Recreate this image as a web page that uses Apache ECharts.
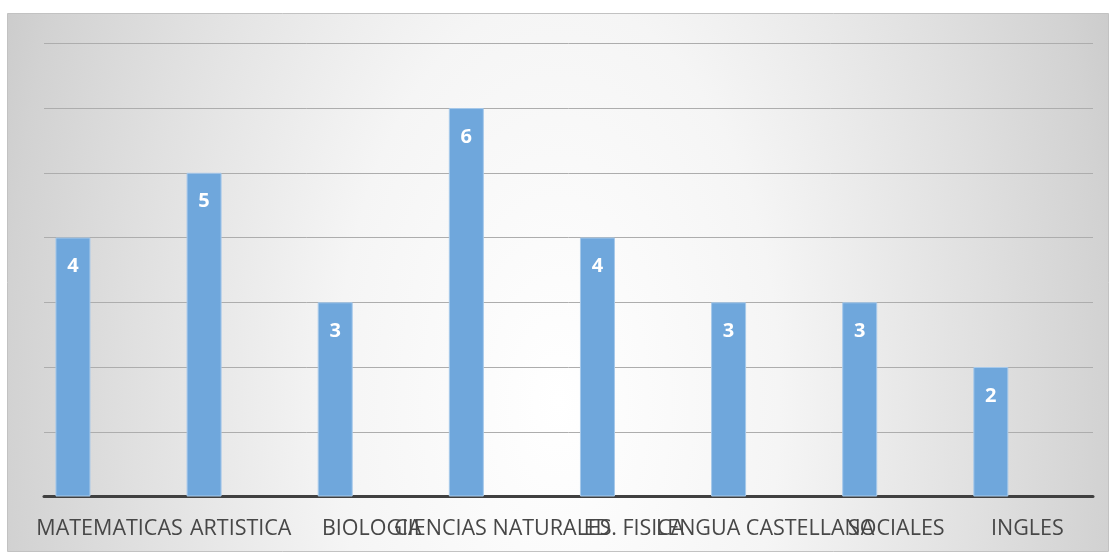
<!DOCTYPE html>
<html>
<head>
<meta charset="utf-8">
<script src="https://cdn.jsdelivr.net/npm/echarts@6/dist/echarts.min.js"></script>
<style>
  html, body { margin: 0; padding: 0; background: #ffffff; }
  #chart { width: 1109px; height: 552px; }
</style>
</head>
<body>
<div id="chart"></div>
<script>
// Subjects and the count for each
const categories = ['MATEMATICAS', 'ARTISTICA', 'BIOLOGIA', 'CIENCIAS NATURALES', 'ED. FISICA', 'LENGUA CASTELLANA', 'SOCIALES', 'INGLES'];
const counts = [4, 5, 3, 6, 4, 3, 3, 2];
const yMin = 0;
const yMax = 7;
const yStep = 1;

const chart = echarts.init(document.getElementById('chart'), null, { renderer: 'canvas' });

const textFont = '"Open Sans", "Noto Sans", sans-serif';

// Chart area background: an elliptical light-centre shading, stretched tall,
// drawn as a horizontally squeezed rect so the radial fill becomes an ellipse.
const squeeze = 0.55;
const areaW = 1101, areaH = 538;

chart.setOption({
  animation: false,
  backgroundColor: '#ffffff',
  graphic: [{
    type: 'rect',
    z: -10,
    x: 7.5,
    y: 13.5,
    scaleX: squeeze,
    shape: { x: 0, y: 0, width: areaW / squeeze, height: areaH },
    style: {
      fill: {
        type: 'radial', x: 0.5, y: 0.72, r: 2.14,
        colorStops: [
          { offset: 0, color: '#ffffff' },
          { offset: 0.35, color: '#f5f5f5' },
          { offset: 0.67, color: '#e0e0e0' },
          { offset: 0.87, color: '#d2d2d2' },
          { offset: 1, color: '#c6c6c6' }
        ]
      }
    }
  }, {
    type: 'rect',
    z: -9,
    shape: { x: 7.5, y: 13.5, width: areaW, height: areaH },
    style: { fill: 'none', stroke: '#c2c2c2', lineWidth: 1 }
  }],
  grid: [
    // frame: gridlines, baseline and category labels
    { left: 44, width: 1049, top: 43.3, bottom: 55.5 },
    // columns
    { left: 7.4, width: 1049, top: 43.3, bottom: 55.5 }
  ],
  xAxis: [{
    type: 'category',
    gridIndex: 0,
    data: categories,
    axisLine: { show: true, lineStyle: { color: '#404040', width: 3 } },
    axisTick: { show: false },
    axisLabel: {
      interval: 0,
      hideOverlap: false,
      margin: 21,
      fontFamily: textFont,
      fontSize: 21.5,
      color: '#474747'
    },
    splitLine: { show: false }
  }, {
    type: 'category',
    gridIndex: 1,
    data: categories,
    show: false
  }],
  yAxis: [{
    type: 'value',
    gridIndex: 0,
    min: yMin, max: yMax, interval: yStep,
    axisLine: { show: false },
    axisTick: { show: false },
    axisLabel: { show: false },
    splitLine: { show: true, lineStyle: { color: '#adadad', width: 1 } }
  }, {
    type: 'value',
    gridIndex: 1,
    min: yMin, max: yMax, interval: yStep,
    show: false,
    splitLine: { show: false }
  }],
  series: [{
    type: 'bar',
    xAxisIndex: 1,
    yAxisIndex: 1,
    data: counts,
    barWidth: 35,
    z: 1,
    itemStyle: {
      color: '#6fa7dc',
      borderColor: '#a7c9ea',
      borderWidth: 1
    },
    label: {
      show: true,
      position: 'insideTop',
      distance: 19,
      color: '#ffffff',
      fontFamily: textFont,
      fontWeight: 'bold',
      fontSize: 20
    }
  }]
});
</script>
</body>
</html>
